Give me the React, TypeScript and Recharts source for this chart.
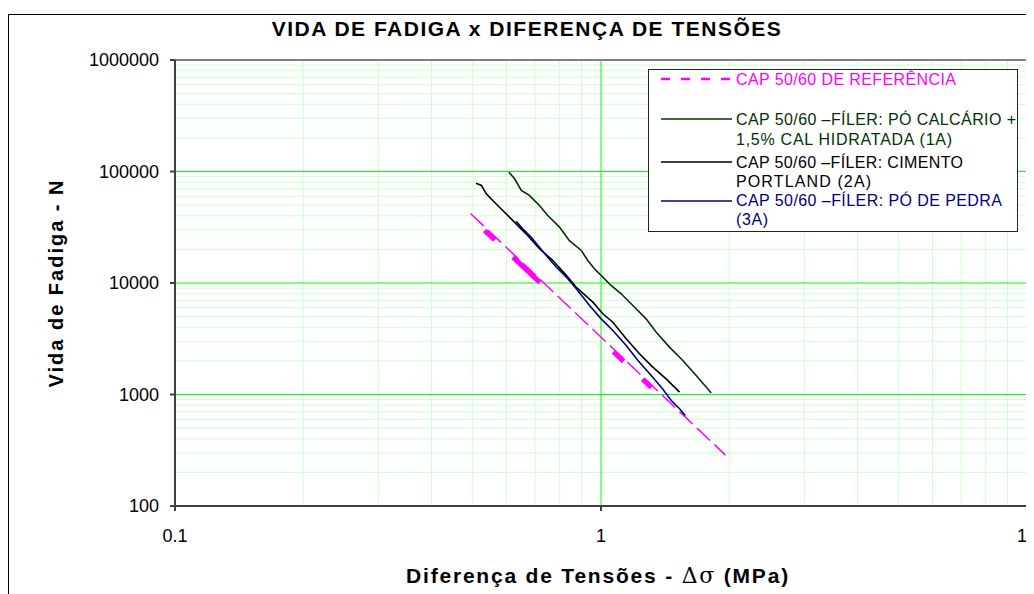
import { LineChart, Line, XAxis, YAxis, ReferenceLine, Legend } from 'recharts';

// eixos (escala log)
const xTicks = [0.1, 1, 10];
const yTicks = [100, 1000, 10000, 100000, 1000000];
const xMinor = [0.2, 0.3, 0.4, 0.5, 0.6, 0.7, 0.8, 0.9, 2, 3, 4, 5, 6, 7, 8, 9];
const yMinor = [
  200, 300, 400, 500, 600, 700, 800, 900,
  2000, 3000, 4000, 5000, 6000, 7000, 8000, 9000,
  20000, 30000, 40000, 50000, 60000, 70000, 80000, 90000,
  200000, 300000, 400000, 500000, 600000, 700000, 800000, 900000,
];
const xMajor = [1];
const yMajor = [1000, 10000, 100000];

// CAP 50/60 de referência (reta de ajuste + trecho ensaiado)
const refLineDelta = [0.494, 1.96];
const refLineN = [42000, 286];
const refDataDelta = [0.533, 1.313];
const refDataN = [29600, 1156];

// 1A - pó calcário + 1,5% cal hidratada
const delta1A = [0.608, 0.627, 0.65, 0.679, 0.717, 0.75, 0.799, 0.843, 0.899, 0.931, 0.965, 1.01, 1.056, 1.115, 1.188, 1.276, 1.348, 1.448, 1.556, 1.673, 1.815];
const n1A = [98600, 86000, 67600, 61000, 49500, 40300, 31700, 24000, 19600, 15900, 13400, 11300, 9500, 8000, 6280, 4770, 3620, 2660, 2020, 1480, 1030];

// 2A - cimento portland
const delta2A = [0.509, 0.524, 0.538, 0.557, 0.588, 0.621, 0.667, 0.717, 0.771, 0.829, 0.875, 0.957, 1.01, 1.066, 1.146, 1.231, 1.323, 1.422, 1.529];
const n2A = [78500, 74900, 63100, 55000, 44700, 36300, 27600, 20300, 15900, 11700, 9160, 6730, 5300, 4450, 3160, 2320, 1760, 1380, 1050];

// 3A - pó de pedra
const delta3A = [0.632, 0.655, 0.685, 0.717, 0.75, 0.785, 0.829, 0.875, 0.94, 1.001, 1.066, 1.146, 1.221, 1.312, 1.396, 1.462, 1.529, 1.577];
const n3A = [35800, 30600, 25800, 20900, 17000, 13900, 11300, 8870, 6280, 4770, 3750, 2750, 2020, 1480, 1120, 883, 745, 649];

// textos da legenda (quebra de linha como no original)
const legendRef = ['CAP 50/60 DE REFERÊNCIA'];
const legend1A = ['CAP 50/60 –FÍLER: PÓ CALCÁRIO +', '1,5% CAL HIDRATADA (1A)'];
const legend2A = ['CAP 50/60 –FÍLER: CIMENTO', 'PORTLAND (2A)'];
const legend3A = ['CAP 50/60 –FÍLER: PÓ DE PEDRA', '(3A)'];

const toPoints = (xs: number[], ys: number[]) => xs.map((x, i) => ({ x, y: ys[i] }));

const COLOR_REF = '#ff00ff';
const COLOR_1A = '#003300';
const COLOR_2A = '#000000';
const COLOR_3A = '#000080';
const MINOR = '#ccffcc';
const MAJOR = '#00ff00';
const AXIS = '#404040';
const FONT = '"Liberation Sans", Arial, sans-serif';

function LegendText({ y, color, text, width }: { y: number; color: string; text: string; width: number }) {
  return (
    <text
      x={87}
      y={y}
      dominantBaseline="central"
      fill={color}
      fontSize={16}
      fontFamily={FONT}
      textLength={width}
      lengthAdjust="spacing"
    >
      {text}
    </text>
  );
}

function FatigueLegend() {
  return (
    <svg width={370} height={163} style={{ display: 'block', background: '#fff', border: '1px solid #222', boxSizing: 'border-box' }}>
      <line x1={12} x2={83} y1={9} y2={9} stroke={COLOR_REF} strokeWidth={2.5} strokeDasharray="9 11" />
      <LegendText y={9} color={COLOR_REF} text={legendRef[0]} width={220} />

      <line x1={12} x2={83} y1={49} y2={49} stroke={COLOR_1A} strokeWidth={1.5} />
      <LegendText y={49} color={COLOR_1A} text={legend1A[0]} width={280} />
      <LegendText y={69} color={COLOR_1A} text={legend1A[1]} width={216} />

      <line x1={12} x2={83} y1={92} y2={92} stroke={COLOR_2A} strokeWidth={1.5} />
      <LegendText y={92} color={COLOR_2A} text={legend2A[0]} width={227} />
      <LegendText y={111} color={COLOR_2A} text={legend2A[1]} width={135} />

      <line x1={12} x2={83} y1={131} y2={131} stroke={COLOR_3A} strokeWidth={1.5} />
      <LegendText y={130} color={COLOR_3A} text={legend3A[0]} width={266} />
      <LegendText y={149} color={COLOR_3A} text={legend3A[1]} width={32} />
    </svg>
  );
}

export default function App() {
  const tick = { fontSize: 18, fill: '#000', fontFamily: FONT };
  return (
    <div style={{ paddingTop: 6, fontFamily: FONT }}>
      <style>{'html{overflow:hidden}'}</style>
      <div style={{ width: 1045, height: 600, border: '1px solid #000', background: '#fff' }}>
        <LineChart width={1045} height={600} margin={{ top: 45, right: 27, bottom: 69, left: 106 }}>
          <XAxis
            dataKey="x"
            type="number"
            scale="log"
            domain={[0.1, 10]}
            ticks={xTicks}
            allowDataOverflow
            height={40}
            tick={tick}
            tickSize={5}
            tickMargin={18}
            tickFormatter={(v) => String(v)}
            axisLine={{ stroke: AXIS, strokeWidth: 2 }}
            tickLine={{ stroke: AXIS, strokeWidth: 2 }}
          />
          <YAxis
            dataKey="y"
            type="number"
            scale="log"
            domain={[100, 1000000]}
            ticks={yTicks}
            allowDataOverflow
            width={60}
            tick={tick}
            tickSize={5}
            tickMargin={11}
            tickFormatter={(v) => String(v)}
            axisLine={{ stroke: AXIS, strokeWidth: 2 }}
            tickLine={{ stroke: AXIS, strokeWidth: 2 }}
          />
          {xMinor.map((v) => (
            <ReferenceLine key={`xm-${v}`} x={v} stroke={MINOR} strokeWidth={1} />
          ))}
          {yMinor.map((v) => (
            <ReferenceLine key={`ym-${v}`} y={v} stroke={MINOR} strokeWidth={1} />
          ))}
          {xMajor.map((v) => (
            <ReferenceLine key={`xM-${v}`} x={v} stroke={MAJOR} strokeWidth={1} />
          ))}
          {yMajor.map((v) => (
            <ReferenceLine key={`yM-${v}`} y={v} stroke={MAJOR} strokeWidth={1} />
          ))}
          <ReferenceLine y={1000000} stroke="#808080" strokeWidth={2} />
          <ReferenceLine x={10} stroke="#808080" strokeWidth={2} />

          <Line
            data={toPoints(refLineDelta, refLineN)}
            dataKey="y"
            stroke={COLOR_REF}
            strokeWidth={1.5}
            strokeDasharray="18 6"
            dot={false}
            isAnimationActive={false}
            legendType="none"
          />
          <Line
            data={toPoints(refDataDelta, refDataN)}
            dataKey="y"
            stroke={COLOR_REF}
            strokeWidth={5}
            strokeDasharray="14 25 37 101 14 26 14 100"
            dot={false}
            isAnimationActive={false}
            legendType="none"
          />
          <Line data={toPoints(delta1A, n1A)} dataKey="y" stroke={COLOR_1A} strokeWidth={1.6} dot={false} isAnimationActive={false} />
          <Line data={toPoints(delta2A, n2A)} dataKey="y" stroke={COLOR_2A} strokeWidth={1.6} dot={false} isAnimationActive={false} />
          <Line data={toPoints(delta3A, n3A)} dataKey="y" stroke={COLOR_3A} strokeWidth={1.6} dot={false} isAnimationActive={false} />

          <Legend
            layout="horizontal"
            verticalAlign="middle"
            align="center"
            content={() => <FatigueLegend />}
            wrapperStyle={{ left: 639, top: 54, width: 370, height: 163 }}
          />

          <text x={518} y={21} textAnchor="middle" fontSize={21} fontWeight="bold" fontFamily={FONT} letterSpacing={1.5}>
            VIDA DE FADIGA x DIFERENÇA DE TENSÕES
          </text>
          <text
            transform="translate(47,268) rotate(-90)"
            textAnchor="middle"
            dominantBaseline="central"
            fontSize={20}
            fontWeight="bold"
            fontFamily={FONT}
            letterSpacing={2}
          >
            Vida de Fadiga - N
          </text>
          <text x={589} y={568} textAnchor="middle" fontSize={21} fontWeight="bold" fontFamily={FONT} letterSpacing={1.8}>
            <tspan>Diferença de Tensões - </tspan>
            <tspan fontFamily='"DejaVu Serif", "Liberation Serif", serif' fontWeight="normal" fontSize={22}>Δσ</tspan>
            <tspan> (MPa)</tspan>
          </text>
        </LineChart>
      </div>
    </div>
  );
}
